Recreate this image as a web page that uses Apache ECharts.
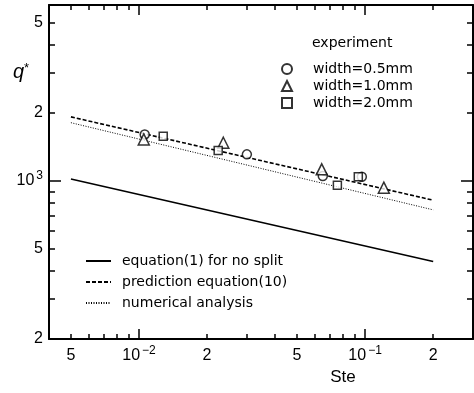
<!DOCTYPE html>
<html>
<head>
<meta charset="utf-8">
<script src="https://cdn.jsdelivr.net/npm/echarts@6/dist/echarts.min.js"></script>
<style>html,body{margin:0;padding:0;background:#fff}#main{width:474px;height:393px}</style>
</head>
<body>
<div id="main"></div>
<script>
// axis ranges and ticks
var xRange = [0.004, 0.3];
var yRange = [200, 6000];
var xLabelVals = [0.005, 0.01, 0.02, 0.05, 0.1, 0.2];
var xMinorVals = [0.005, 0.006, 0.007, 0.008, 0.009, 0.02, 0.03, 0.04, 0.05, 0.06, 0.07, 0.08, 0.09, 0.2];
var xDecadeVals = [0.01, 0.1];
var yLabelVals = [200, 500, 1000, 2000, 5000];
var yMinorVals = [300, 400, 500, 600, 700, 800, 900, 2000, 3000, 4000, 5000];
var yDecadeVals = [1000];

// curves
var lineX = [0.005, 0.2];
var eq1Y = [1020, 440];
var predY = [1920, 822];
var numY = [1810, 745];

// experiment
var w05X = [0.0106, 0.030, 0.065, 0.0967];
var w05Y = [1606, 1311, 1052, 1044];
var w10X = [0.0105, 0.0236, 0.0643, 0.121];
var w10Y = [1526, 1475, 1126, 934];
var w20X = [0.0128, 0.0224, 0.0754, 0.0933];
var w20Y = [1578, 1365, 958, 1044];

function pairs(xs, ys) {
	var out = [];
	for (var i = 0; i < xs.length; i++) out.push([xs[i], ys[i]]);
	return out;
}

var tickFont = 'Liberation Sans';
var txtFont = 'DejaVu Sans';

function fmtLog(v) {
	var e = Math.floor(Math.log10(v) + 1e-9);
	var m = Math.round(v / Math.pow(10, e));
	if (m === 1) return '{b|10}{s|' + (e < 0 ? '\u2212' + (-e) : e) + '}';
	return '{b|' + m + '}';
}
var labelRich = {
	b: {fontSize: 16, fontFamily: tickFont, color: '#000', lineHeight: 22},
	s: {fontSize: 12, fontFamily: tickFont, color: '#000', lineHeight: 22, verticalAlign: 'top', padding: [0, 0, 0, 2]}
};

function makeAxis(pos, range, ticks, len, line, labels) {
	var ax = {
		type: 'log',
		position: pos,
		min: range[0],
		max: range[1],
		splitLine: {show: false},
		axisLine: {show: line, onZero: false, lineStyle: {color: '#000', width: 2}},
		axisTick: {show: true, inside: true, length: len, customValues: ticks, lineStyle: {color: '#000', width: 1.5}},
		axisLabel: {show: false}
	};
	if (labels) {
		ax.axisLabel = {show: true, customValues: labels, formatter: fmtLog, rich: labelRich, margin: 6};
	}
	return ax;
}

var myChart = echarts.init(document.getElementById('main'));
var xBottom = makeAxis('bottom', xRange, xMinorVals, 5, true, xLabelVals);
xBottom.name = 'Ste';
xBottom.nameLocation = 'middle';
xBottom.nameGap = 30;
xBottom.nameTextStyle = {fontSize: 17, fontFamily: tickFont, color: '#000', padding: [0, 0, 0, 164]};
var yLeft = makeAxis('left', yRange, yMinorVals, 6, true, yLabelVals);

option = {
	animation: false,
	backgroundColor: '#fff',
	grid: {left: 49, right: 1, top: 5, bottom: 54},
	title: {
		text: 'experiment', left: 307, top: 31,
		textStyle: {fontSize: 14, fontWeight: 'normal', fontFamily: txtFont, color: '#000'}
	},
	graphic: [{
		type: 'text', left: 13, top: 62,
		style: {
			text: '{q|q}{s|*}',
			rich: {
				q: {fontSize: 20, fontStyle: 'italic', fontFamily: tickFont, fill: '#000'},
				s: {fontSize: 13, fontFamily: tickFont, fill: '#000', verticalAlign: 'top'}
			}
		}
	}],
	legend: [{
		data: ['width=0.5mm', 'width=1.0mm', 'width=2.0mm'],
		orient: 'vertical', left: 276, top: 57,
		itemWidth: 10, itemHeight: 10, itemGap: 3,
		textStyle: {fontSize: 14, fontFamily: txtFont, color: '#000', padding: [0, 0, 0, 16]}
	}, {
		data: ['equation(1) for no split', 'prediction equation(10)', 'numerical analysis'],
		orient: 'vertical', left: 80, top: 249,
		itemWidth: 25, itemHeight: 10, itemGap: 7,
		itemStyle: {opacity: 0},
		textStyle: {fontSize: 14, fontFamily: txtFont, color: '#000', padding: [0, 0, 0, 6]}
	}],
	xAxis: [
		xBottom,
		makeAxis('bottom', xRange, xDecadeVals, 10, false, null),
		makeAxis('top', xRange, xMinorVals, 5, true, null),
		makeAxis('top', xRange, xDecadeVals, 10, false, null)
	],
	yAxis: [
		yLeft,
		makeAxis('left', yRange, yDecadeVals, 12, false, null),
		makeAxis('right', yRange, yMinorVals, 6, true, null),
		makeAxis('right', yRange, yDecadeVals, 12, false, null)
	],
	series: [{
		name: 'equation(1) for no split', type: 'line', symbol: 'none', color: '#000',
		lineStyle: {color: '#000', width: 1.6, type: 'solid'},
		data: pairs(lineX, eq1Y)
	}, {
		name: 'prediction equation(10)', type: 'line', symbol: 'none', color: '#000',
		lineStyle: {color: '#000', width: 1.6, type: [4, 2]},
		data: pairs(lineX, predY)
	}, {
		name: 'numerical analysis', type: 'line', symbol: 'none', color: '#000',
		lineStyle: {color: '#000', width: 1, type: [1, 1.5]},
		data: pairs(lineX, numY)
	}, {
		name: 'width=0.5mm', type: 'scatter', symbol: 'circle', symbolSize: 9, z: 5,
		itemStyle: {color: '#fff', borderColor: '#000', borderWidth: 1.5},
		data: pairs(w05X, w05Y)
	}, {
		name: 'width=1.0mm', type: 'scatter', symbol: 'triangle', symbolSize: 11, z: 5,
		itemStyle: {color: '#fff', borderColor: '#000', borderWidth: 1.5},
		data: pairs(w10X, w10Y)
	}, {
		name: 'width=2.0mm', type: 'scatter', symbol: 'rect', symbolSize: 8, z: 5,
		itemStyle: {color: '#fff', borderColor: '#000', borderWidth: 1.5},
		data: pairs(w20X, w20Y)
	}]
};
myChart.setOption(option);
</script>
</body>
</html>
